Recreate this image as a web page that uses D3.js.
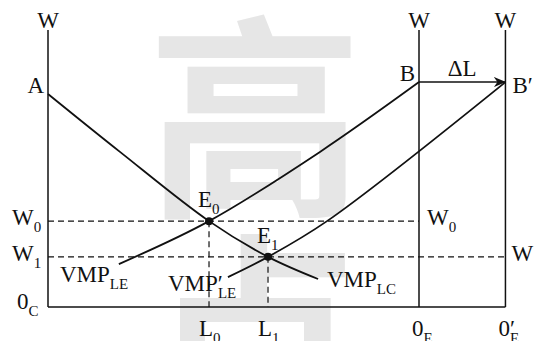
<!DOCTYPE html>
<html>
<head>
<meta charset="utf-8">
<script src="https://cdn.jsdelivr.net/npm/d3@7"></script>
<style>
  body { margin: 0; background: #fff; }
</style>
</head>
<body>
<div id="chart"></div>
<script>
// labour units along the bottom, wage units up the side
var axisLabour = [0, 10, 12.33];          // 0C, 0E, 0'E
var wageTop = 10;
var wageLevels = [3.10, 1.81];            // W0, W1
var labourLevels = [4.34, 5.93];          // L0, L1
var pointA = [0, 7.69];
var pointB = [10, 8.12];
var pointB2 = [12.33, 8.12];

// curves
var vmpLC  = [[0, 7.69], [1.94, 5.60], [4.34, 3.10], [5.93, 1.81], [7.28, 1.01]];
var vmpLE  = [[1.91, 1.55], [4.34, 3.10], [7.33, 5.60], [10, 8.12]];
var vmpLE2 = [[4.85, 1.08], [5.93, 1.81], [7.52, 3.10], [12.33, 8.12]];
var equilibria = [[4.34, 3.10], [5.93, 1.81]];

var width = 534, height = 341;

var svg = d3.select("#chart").append("svg")
    .attr("width", width).attr("height", height);

var x = d3.scaleLinear().domain([0, 10]).range([48, 419]);
var y = d3.scaleLinear().domain([0, 10]).range([307, 30]);

// watermark
svg.append("text").attr("x", 255).attr("y", 200)
    .attr("text-anchor", "middle")
    .attr("font-family", "Noto Sans CJK SC").attr("font-weight", 700)
    .attr("font-size", 216).attr("fill", "#e6e6e6")
    .text("高");
svg.append("text").attr("x", 255).attr("y", 418)
    .attr("text-anchor", "middle")
    .attr("font-family", "Noto Sans CJK SC").attr("font-weight", 700)
    .attr("font-size", 216).attr("fill", "#e6e6e6")
    .text("点");

svg.append("defs").append("marker")
    .attr("id", "arr").attr("viewBox", "0 0 12 10")
    .attr("refX", 11.5).attr("refY", 5)
    .attr("markerWidth", 12).attr("markerHeight", 10)
    .attr("markerUnits", "userSpaceOnUse")
    .attr("orient", "auto")
  .append("path").attr("d", "M0,0 L12,5 L0,10 L3.5,5 Z").attr("fill", "#111");

// dashed guides
var dash = "6,4";
svg.append("line")
    .attr("x1", x(0)).attr("x2", x(axisLabour[1]))
    .attr("y1", y(wageLevels[0])).attr("y2", y(wageLevels[0]))
    .attr("stroke", "#111").attr("stroke-width", 1.2).attr("stroke-dasharray", dash);
svg.append("line")
    .attr("x1", x(0)).attr("x2", x(axisLabour[2]))
    .attr("y1", y(wageLevels[1])).attr("y2", y(wageLevels[1]))
    .attr("stroke", "#111").attr("stroke-width", 1.2).attr("stroke-dasharray", dash);
labourLevels.forEach(function(l, i){
  svg.append("line")
    .attr("x1", x(l)).attr("x2", x(l))
    .attr("y1", y(wageLevels[i])).attr("y2", y(0))
    .attr("stroke", "#111").attr("stroke-width", 1.2).attr("stroke-dasharray", dash);
});

// axes
axisLabour.forEach(function(l){
  svg.append("line")
    .attr("x1", x(l)).attr("x2", x(l)).attr("y1", y(0)).attr("y2", y(wageTop))
    .attr("stroke", "#111").attr("stroke-width", 1.5);
});
svg.append("line")
    .attr("x1", x(0)).attr("x2", x(axisLabour[2])).attr("y1", y(0)).attr("y2", y(0))
    .attr("stroke", "#111").attr("stroke-width", 1.5);

// curves
var line = d3.line().x(function(d){ return x(d[0]); }).y(function(d){ return y(d[1]); })
    .curve(d3.curveCatmullRom.alpha(0.5));
[vmpLC, vmpLE, vmpLE2].forEach(function(c){
  svg.append("path").attr("d", line(c))
    .attr("fill", "none").attr("stroke", "#111").attr("stroke-width", 1.8);
});

// delta L arrow
svg.append("line")
    .attr("x1", x(pointB[0])).attr("y1", y(pointB[1]))
    .attr("x2", x(pointB2[0])).attr("y2", y(pointB2[1]))
    .attr("stroke", "#111").attr("stroke-width", 1.5)
    .attr("marker-end", "url(#arr)");

svg.selectAll("circle.eq").data(equilibria).enter().append("circle")
    .attr("cx", function(d){ return x(d[0]); })
    .attr("cy", function(d){ return y(d[1]); })
    .attr("r", 4).attr("fill", "#111");

// labels
function label(px, py, main, sub, anchor, subDx){
  var t = svg.append("text").attr("x", px).attr("y", py)
      .attr("text-anchor", anchor || "start")
      .attr("font-family", "Liberation Serif").attr("fill", "#111")
      .attr("font-size", 23);
  t.append("tspan").text(main);
  if (sub) {
    t.append("tspan").attr("dy", 7).attr("dx", subDx || 0)
      .attr("font-size", 15).text(sub);
  }
  return t;
}

axisLabour.forEach(function(l){
  label(x(l), 28, "W", null, "middle");
});
label(x(0) - 4, y(pointA[1]) - 1, "A", null, "end");
label(x(pointB[0]) - 4, y(pointB[1]) - 1, "B", null, "end");
label((x(pointB[0]) + x(pointB2[0])) / 2, y(pointB[1]) - 6, "ΔL", null, "middle");
label(x(pointB2[0]) + 7, y(pointB2[1]) + 11, "B′");

label(12, y(wageLevels[0]) + 4, "W", "0");
label(12, y(wageLevels[1]) + 4, "W", "1");
label(x(axisLabour[1]) + 8, y(wageLevels[0]) + 4, "W", "0");
label(x(axisLabour[2]) + 6, y(wageLevels[1]) + 4, "W", "1");
label(17, y(0) + 2, "0", "C");

label(x(labourLevels[0]) - 10, 336, "L", "0");
label(x(labourLevels[1]) - 10, 336, "L", "1");
label(x(axisLabour[1]) - 7, 336, "0", "E");
label(x(axisLabour[2]) - 7, 336, "0′", "E", null, -5);

label(x(equilibria[0][0]) - 11, y(equilibria[0][1]) - 14, "E", "0");
label(x(equilibria[1][0]) - 11, y(equilibria[1][1]) - 14, "E", "1");

label(60, 282, "VMP", "LE");
label(168, 291, "VMP′", "LE", null, -5);
label(327, 287, "VMP", "LC");
</script>
</body>
</html>
